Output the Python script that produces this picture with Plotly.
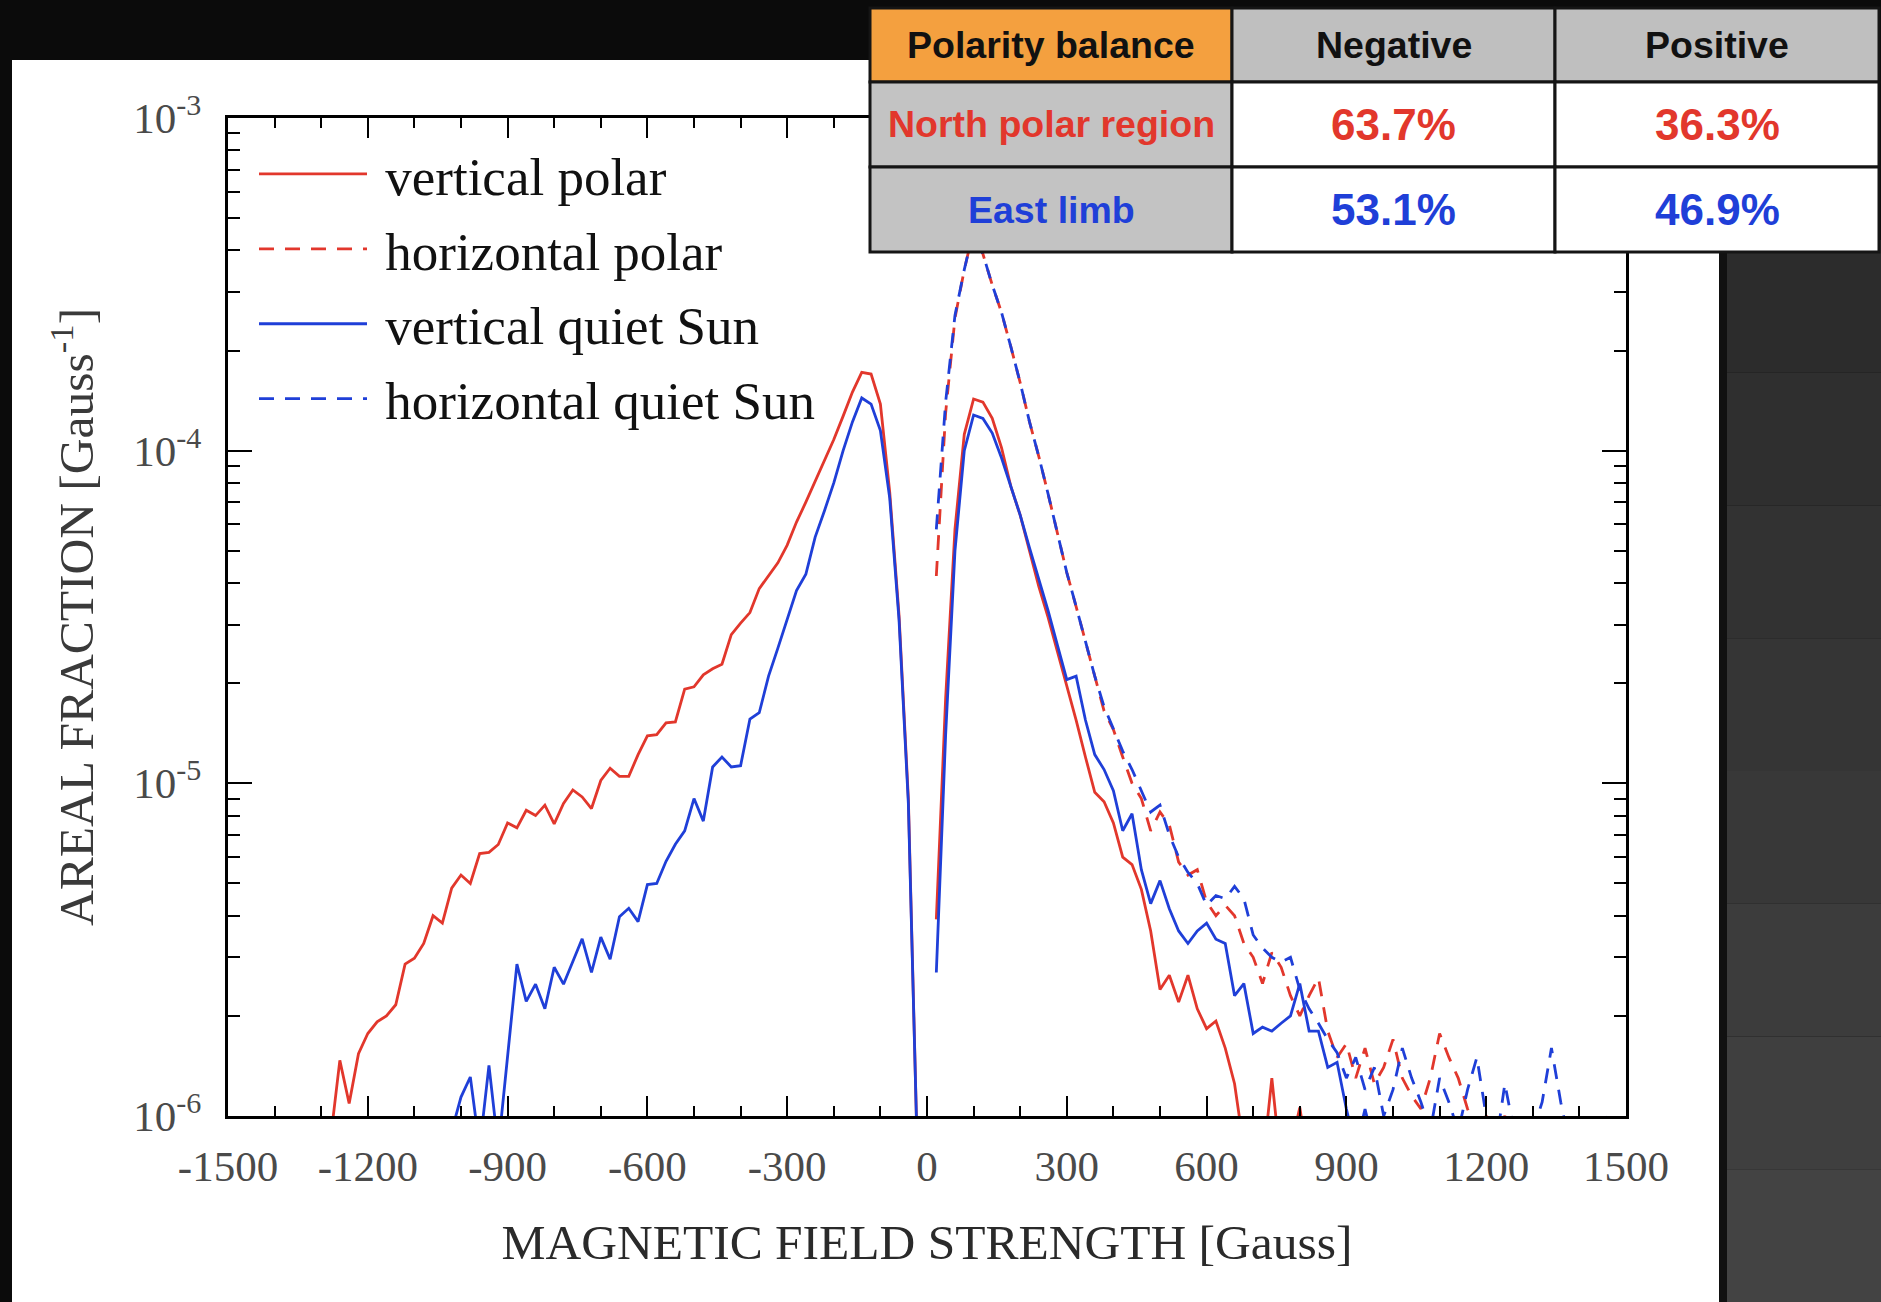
import plotly.graph_objects as go

# ---------------- data ----------------
# vertical polar (red solid)
vp_neg_field = [-1280, -1260, -1240, -1220, -1200, -1180, -1160, -1140, -1120, -1100,
                -1080, -1060, -1040, -1020, -1000, -980, -960, -940, -920, -900,
                -880, -860, -840, -820, -800, -780, -760, -740, -720, -700,
                -680, -660, -640, -620, -600, -580, -560, -540, -520, -500,
                -480, -460, -440, -420, -400, -380, -360, -340, -320, -300,
                -280, -260, -240, -220, -200, -180, -160, -140, -120, -100,
                -80, -60, -40, -20]
vp_neg_frac = [8.5e-7, 1.47e-6, 1.09e-6, 1.54e-6, 1.77e-6, 1.92e-6, 2.0e-6, 2.16e-6, 2.86e-6, 2.98e-6,
               3.3e-6, 4.0e-6, 3.8e-6, 4.84e-6, 5.3e-6, 5.0e-6, 6.15e-6, 6.2e-6, 6.55e-6, 7.6e-6,
               7.35e-6, 8.3e-6, 8.0e-6, 8.6e-6, 7.55e-6, 8.7e-6, 9.55e-6, 9.1e-6, 8.4e-6, 1.02e-5,
               1.11e-5, 1.05e-5, 1.05e-5, 1.22e-5, 1.39e-5, 1.40e-5, 1.52e-5, 1.53e-5, 1.92e-5, 1.95e-5,
               2.12e-5, 2.21e-5, 2.28e-5, 2.8e-5, 3.03e-5, 3.26e-5, 3.85e-5, 4.2e-5, 4.6e-5, 5.2e-5,
               6.1e-5, 7.0e-5, 8.1e-5, 9.3e-5, 1.08e-4, 1.27e-4, 1.5e-4, 1.72e-4, 1.70e-4, 1.38e-4,
               7.5e-5, 3.2e-5, 9.0e-6, 7.0e-7]
vp_pos_field = [20, 40, 60, 80, 100, 120, 140, 160, 180, 200,
                220, 240, 260, 280, 300, 320, 340, 360, 380, 400,
                420, 440, 460, 480, 500, 520, 540, 560, 580, 600,
                620, 640, 660, 680, 700, 720, 740, 760, 780, 800, 820]
vp_pos_frac = [3.9e-6, 1.8e-5, 5.8e-5, 1.12e-4, 1.43e-4, 1.40e-4, 1.25e-4, 1.02e-4, 7.8e-5, 6.4e-5,
               5.0e-5, 3.9e-5, 3.15e-5, 2.5e-5, 1.95e-5, 1.55e-5, 1.2e-5, 9.4e-6, 8.8e-6, 7.6e-6,
               6.0e-6, 5.7e-6, 4.8e-6, 3.6e-6, 2.4e-6, 2.65e-6, 2.2e-6, 2.65e-6, 2.1e-6, 1.83e-6,
               1.93e-6, 1.6e-6, 1.25e-6, 8.0e-7, 7.0e-7, 7.0e-7, 1.3e-6, 7.0e-7, 8.0e-7, 1.06e-6, 7.0e-7]

# vertical quiet Sun (blue solid)
vq_neg_field = [-1040, -1020, -1000, -980, -960, -940, -920, -900,
                -880, -860, -840, -820, -800, -780, -760, -740, -720, -700,
                -680, -660, -640, -620, -600, -580, -560, -540, -520, -500,
                -480, -460, -440, -420, -400, -380, -360, -340, -320, -300,
                -280, -260, -240, -220, -200, -180, -160, -140, -120, -100,
                -80, -60, -40, -20]
vq_neg_frac = [6.0e-7, 9.0e-7, 1.14e-6, 1.31e-6, 8.0e-7, 1.42e-6, 8.0e-7, 1.5e-6,
               2.86e-6, 2.21e-6, 2.49e-6, 2.1e-6, 2.8e-6, 2.49e-6, 2.93e-6, 3.41e-6, 2.7e-6, 3.45e-6,
               2.96e-6, 3.97e-6, 4.21e-6, 3.84e-6, 4.96e-6, 5.0e-6, 5.83e-6, 6.56e-6, 7.2e-6, 9.0e-6,
               7.7e-6, 1.12e-5, 1.2e-5, 1.12e-5, 1.13e-5, 1.56e-5, 1.63e-5, 2.1e-5, 2.55e-5, 3.1e-5,
               3.8e-5, 4.25e-5, 5.5e-5, 6.6e-5, 8.0e-5, 1.0e-4, 1.22e-4, 1.44e-4, 1.38e-4, 1.15e-4,
               7.2e-5, 3.1e-5, 8.7e-6, 7.0e-7]
vq_pos_field = [20, 40, 60, 80, 100, 120, 140, 160, 180, 200,
                220, 240, 260, 280, 300, 320, 340, 360, 380, 400,
                420, 440, 460, 480, 500, 520, 540, 560, 580, 600,
                620, 640, 660, 680, 700, 720, 740, 760, 780, 800,
                820, 840, 860, 880, 900, 920, 940, 960]
vq_pos_frac = [2.7e-6, 1.4e-5, 5.0e-5, 1.0e-4, 1.28e-4, 1.25e-4, 1.13e-4, 9.5e-5, 7.8e-5, 6.4e-5,
               5.1e-5, 4.1e-5, 3.3e-5, 2.6e-5, 2.05e-5, 2.1e-5, 1.55e-5, 1.22e-5, 1.1e-5, 9.5e-6,
               7.2e-6, 8.1e-6, 5.5e-6, 4.35e-6, 5.1e-6, 4.2e-6, 3.6e-6, 3.3e-6, 3.6e-6, 3.8e-6,
               3.4e-6, 3.3e-6, 2.3e-6, 2.5e-6, 1.77e-6, 1.85e-6, 1.8e-6, 1.9e-6, 2.0e-6, 2.5e-6,
               1.8e-6, 1.8e-6, 1.4e-6, 1.45e-6, 1.05e-6, 8.0e-7, 1.05e-6, 8.0e-7]

# horizontal polar (red dashed)
hp_field = [20, 40, 60, 80, 100, 120, 140, 160, 180, 200,
            220, 240, 260, 280, 300, 320, 340, 360, 380, 400,
            420, 440, 460, 480, 500, 520, 540, 560, 580, 600,
            620, 640, 660, 680, 700, 720, 740, 760, 780, 800,
            820, 840, 860, 880, 900, 920, 940, 960, 980, 1000,
            1020, 1040, 1060, 1080, 1100, 1120, 1140, 1160, 1180, 1200,
            1220, 1240, 1260, 1280]
hp_frac = [4.2e-5, 1.3e-4, 2.5e-4, 3.5e-4, 4.6e-4, 3.9e-4, 3.15e-4, 2.6e-4, 2.05e-4, 1.6e-4,
           1.22e-4, 9.6e-5, 7.4e-5, 5.6e-5, 4.3e-5, 3.4e-5, 2.65e-5, 2.1e-5, 1.65e-5, 1.45e-5,
           1.2e-5, 1.0e-5, 9.0e-6, 7.2e-6, 8.2e-6, 7.5e-6, 5.8e-6, 5.3e-6, 5.5e-6, 4.4e-6,
           4.0e-6, 4.3e-6, 4.0e-6, 3.3e-6, 3.0e-6, 2.5e-6, 3.1e-6, 2.8e-6, 2.3e-6, 2.0e-6,
           2.3e-6, 2.6e-6, 1.8e-6, 1.5e-6, 1.65e-6, 1.3e-6, 1.6e-6, 1.25e-6, 1.4e-6, 1.7e-6,
           1.3e-6, 1.15e-6, 1.05e-6, 1.3e-6, 1.77e-6, 1.5e-6, 1.3e-6, 1.05e-6, 9.0e-7, 1.0e-6,
           9.0e-7, 1.0e-6, 8.0e-7, 9.0e-7]

# horizontal quiet Sun (blue dashed)
hq_field = [20, 40, 60, 80, 100, 120, 140, 160, 180, 200,
            220, 240, 260, 280, 300, 320, 340, 360, 380, 400,
            420, 440, 460, 480, 500, 520, 540, 560, 580, 600,
            620, 640, 660, 680, 700, 720, 740, 760, 780, 800,
            820, 840, 860, 880, 900, 920, 940, 960, 980, 1000,
            1020, 1040, 1060, 1080, 1100, 1120, 1140, 1160, 1180, 1200,
            1220, 1240, 1260, 1280, 1300, 1320, 1340, 1360, 1380, 1400,
            1420, 1440, 1460, 1480]
hq_frac = [5.8e-5, 1.4e-4, 2.55e-4, 3.5e-4, 4.6e-4, 3.9e-4, 3.15e-4, 2.6e-4, 2.05e-4, 1.6e-4,
           1.22e-4, 9.6e-5, 7.4e-5, 5.6e-5, 4.3e-5, 3.4e-5, 2.65e-5, 2.1e-5, 1.7e-5, 1.45e-5,
           1.25e-5, 1.1e-5, 9.5e-6, 8.2e-6, 8.6e-6, 7.0e-6, 6.0e-6, 5.4e-6, 5.0e-6, 4.3e-6,
           4.6e-6, 4.5e-6, 4.9e-6, 4.5e-6, 3.5e-6, 3.2e-6, 3.0e-6, 2.9e-6, 3.0e-6, 2.4e-6,
           2.1e-6, 1.9e-6, 1.7e-6, 1.55e-6, 1.3e-6, 1.5e-6, 1.2e-6, 1.4e-6, 1.0e-6, 1.2e-6,
           1.6e-6, 1.3e-6, 1.1e-6, 9.0e-7, 1.3e-6, 1.1e-6, 9.0e-7, 1.2e-6, 1.5e-6, 1.0e-6,
           8.0e-7, 1.25e-6, 9.0e-7, 8.0e-7, 9.0e-7, 1.1e-6, 1.6e-6, 1.1e-6, 8.0e-7, 7.0e-7,
           7.0e-7, 8.0e-7, 1.0e-6, 7.0e-7]

series_names = ["vertical polar", "horizontal polar", "vertical quiet Sun", "horizontal quiet Sun"]

x_tick_vals = [-1500, -1200, -900, -600, -300, 0, 300, 600, 900, 1200, 1500]
x_tick_text = ["-1500", "-1200", "-900", "-600", "-300", "0", "300", "600", "900", "1200", "1500"]
x_minor_vals = [-1400, -1300, -1100, -1000, -800, -700, -500, -400, -200, -100,
                100, 200, 400, 500, 700, 800, 1000, 1100, 1300, 1400]
y_tick_vals = [1e-6, 1e-5, 1e-4, 1e-3]
y_tick_text = ["10<sup>-6</sup>", "10<sup>-5</sup>", "10<sup>-4</sup>", "10<sup>-3</sup>"]
y_minor_vals = [2e-6, 3e-6, 4e-6, 5e-6, 6e-6, 7e-6, 8e-6, 9e-6,
                2e-5, 3e-5, 4e-5, 5e-5, 6e-5, 7e-5, 8e-5, 9e-5,
                2e-4, 3e-4, 4e-4, 5e-4, 6e-4, 7e-4, 8e-4, 9e-4]

table_header = ["Polarity balance", "Negative", "Positive"]
table_regions = ["North polar region", "East limb"]
table_negative = ["63.7%", "53.1%"]
table_positive = ["36.3%", "46.9%"]

# ---------------- styling ----------------
W, H = 1881, 1302
RED = "#e2372c"
BLUE = "#1f3fd8"
SERIF = "Liberation Serif"
SANS = "Liberation Sans"
DASH = "15px,11px"


def fx(p):
    return p / W


def fy(p):
    return 1 - p / H


fig = go.Figure()


def add_series(name, xn, yn, xp, yp, color, dash):
    xs = list(xn) + [0] + list(xp) if xn else list(xp)
    ys = list(yn) + [None] + list(yp) if yn else list(yp)
    fig.add_trace(go.Scatter(x=xs, y=ys, mode="lines", name="\u00a0" + name, legendgroup=name,
                             connectgaps=False,
                             line=dict(color=color, width=2.8, dash=dash)))


add_series(series_names[0], vp_neg_field, vp_neg_frac, vp_pos_field, vp_pos_frac, RED, "solid")
add_series(series_names[1], [], [], hp_field, hp_frac, RED, DASH)
add_series(series_names[2], vq_neg_field, vq_neg_frac, vq_pos_field, vq_pos_frac, BLUE, "solid")
add_series(series_names[3], [], [], hq_field, hq_frac, BLUE, DASH)

shapes = []
# white panel
shapes.append(dict(type="rect", xref="paper", yref="paper", layer="below",
                   x0=fx(12), x1=fx(1722), y0=fy(1302), y1=fy(60),
                   fillcolor="white", line=dict(width=0)))
# dark right panel (stepped gradient)
band_cols = ["#2c2c2c", "#2f2f2f", "#323232", "#353535", "#383838", "#3c3c3c", "#3f3f3f", "#434343"]
band_h = (1302 - 240) / len(band_cols)
for i, c in enumerate(band_cols):
    shapes.append(dict(type="rect", xref="paper", yref="paper", layer="below",
                       x0=fx(1722), x1=fx(1881), y0=fy(240 + (i + 1) * band_h), y1=fy(240 + i * band_h),
                       fillcolor=c, line=dict(width=0)))
shapes.append(dict(type="rect", xref="paper", yref="paper", layer="below",
                   x0=fx(1719), x1=fx(1727), y0=fy(1302), y1=fy(60),
                   fillcolor="#111111", line=dict(width=0)))

# table
col_edges = [870, 1232, 1555, 1879]
row_edges = [8, 82, 167, 252]
fills = [["#f4a03f", "#bfbfbf", "#bfbfbf"],
         ["#c3c3c3", "#ffffff", "#ffffff"],
         ["#c3c3c3", "#ffffff", "#ffffff"]]
for r in range(3):
    for c in range(3):
        shapes.append(dict(type="rect", xref="paper", yref="paper", layer="above",
                           x0=fx(col_edges[c]), x1=fx(col_edges[c + 1]),
                           y0=fy(row_edges[r + 1]), y1=fy(row_edges[r]),
                           fillcolor=fills[r][c], line=dict(color="#151515", width=3)))

annotations = []


def cell_text(text, r, c, color, size):
    annotations.append(dict(xref="paper", yref="paper", showarrow=False,
                            x=fx((col_edges[c] + col_edges[c + 1]) / 2),
                            y=fy((row_edges[r] + row_edges[r + 1]) / 2),
                            xanchor="center", yanchor="middle",
                            text="<b>%s</b>" % text,
                            font=dict(family=SANS, size=size, color=color)))


for c, t in enumerate(table_header):
    cell_text(t, 0, c, "#111111", 37.5)
row_cols = [RED, BLUE]
for r in range(2):
    cell_text(table_regions[r], r + 1, 0, row_cols[r], 37.5)
    cell_text(table_negative[r], r + 1, 1, row_cols[r], 44)
    cell_text(table_positive[r], r + 1, 2, row_cols[r], 44)

axis_common = dict(ticks="inside", tickwidth=2, tickcolor="black", showline=True, linewidth=3,
                   linecolor="black", mirror="ticks", showgrid=False, zeroline=False,
                   automargin=False)

fig.update_layout(
    width=W, height=H,
    margin=dict(l=0, r=0, t=0, b=0, pad=0, autoexpand=False),
    paper_bgcolor="#0b0b0b", plot_bgcolor="white",
    showlegend=True,
    legend=dict(x=fx(254), y=fy(133), xanchor="left", yanchor="top",
                bgcolor="rgba(0,0,0,0)", borderwidth=0,
                font=dict(family=SERIF, size=53, color="#111111"),
                itemwidth=108, tracegroupgap=3, traceorder="grouped"),
    xaxis=dict(domain=[fx(228), fx(1626)], range=[-1500, 1500],
               tickvals=x_tick_vals, ticktext=x_tick_text, ticklen=20,
               ticklabelstandoff=10,
               minor=dict(tickvals=x_minor_vals, ticks="inside", ticklen=10, tickwidth=2,
                          tickcolor="black", showgrid=False),
               tickfont=dict(family=SERIF, size=43, color="#4a4a4a"),
               title=dict(text="MAGNETIC FIELD STRENGTH [Gauss]",
                          font=dict(family=SERIF, size=49.5, color="#2a2a2a"), standoff=36),
               **axis_common),
    yaxis=dict(type="log", domain=[fy(1116), fy(118)], range=[-6, -3],
               tickvals=y_tick_vals, ticktext=y_tick_text, ticklen=24,
               ticklabelstandoff=15,
               minor=dict(tickvals=y_minor_vals, ticks="inside", ticklen=12, tickwidth=2,
                          tickcolor="black", showgrid=False),
               tickfont=dict(family=SERIF, size=43, color="#4a4a4a"),
               title=dict(text="AREAL FRACTION [Gauss<sup>-1</sup>]",
                          font=dict(family=SERIF, size=49.5, color="#3a3a3a"), standoff=24),
               **axis_common),
    shapes=shapes,
    annotations=annotations,
)

fig.write_html("out.html")
